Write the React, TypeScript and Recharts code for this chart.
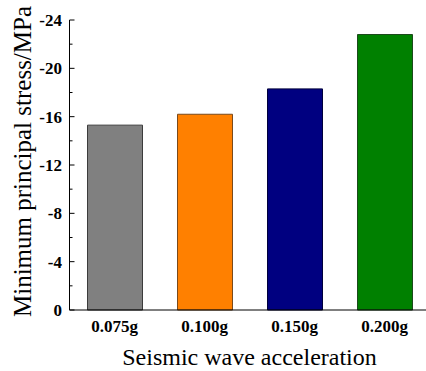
import React from 'react';
import { Bar, BarChart, Cell, Label, XAxis, YAxis } from 'recharts';

const categories = ['0.075g', '0.100g', '0.150g', '0.200g'];
const stressValues = [-15.3, -16.2, -18.3, -22.8];
const barColors = ['#808080', '#FF8000', '#000080', '#008000'];
const barEdges = ['#3c3c3c', '#7a4a1c', '#00003c', '#1c4a1c'];
const yTicks = [0, -2, -4, -6, -8, -10, -12, -14, -16, -18, -20, -22, -24];

const SERIF = '"Liberation Serif", "Times New Roman", serif';
const boldTick = { fontFamily: SERIF, fontWeight: 700, fontSize: 17 };

const data = categories.map((name, i) => ({ name, value: stressValues[i] }));

function YTick({ x, y, payload }: any) {
  const v = payload.value as number;
  const major = v % 4 === 0;
  return (
    <g>
      <line x1={x} x2={x + (major ? 5 : 3)} y1={y} y2={y} stroke="#000" strokeWidth={1} />
      {major && (
        <text x={x - 7.5} y={y} dy="0.36em" textAnchor="end" style={boldTick} fill="#000">
          {v}
        </text>
      )}
    </g>
  );
}

function XTick({ x, y, payload }: any) {
  return (
    <text x={x} y={y + 21.5} textAnchor="middle" style={boldTick} fill="#000">
      {payload.value}
    </text>
  );
}

export default function App() {
  return (
    <div
      style={{
        position: 'absolute',
        left: 0,
        top: 0,
        width: 426,
        height: 371,
        overflow: 'hidden',
        background: '#fff',
        fontFamily: SERIF,
      }}
    >
      <BarChart
        width={429.5}
        height={371}
        data={data}
        margin={{ top: 20, right: 0, left: 0, bottom: 0 }}
        barSize={55}
      >
        <XAxis
          dataKey="name"
          height={61}
          tickSize={0}
          tickMargin={0}
          tickLine={false}
          axisLine={{ stroke: '#000', strokeWidth: 1 }}
          tick={<XTick />}
          interval={0}
        >
          <Label
            content={({ viewBox }: any) => (
              <text
                x={viewBox.x + viewBox.width / 2}
                y={viewBox.y + 55}
                textAnchor="middle"
                style={{ fontFamily: SERIF, fontSize: 24 }}
                fill="#000"
              >
                Seismic wave acceleration
              </text>
            )}
          />
        </XAxis>
        <YAxis
          type="number"
          domain={[-24, 0]}
          reversed
          ticks={yTicks}
          interval={0}
          width={69.5}
          tickSize={0}
          tickMargin={0}
          tickLine={false}
          axisLine={{ stroke: '#000', strokeWidth: 1 }}
          tick={<YTick />}
        >
          <Label
            content={({ viewBox }: any) => {
              const cx = 30.5;
              const cy = viewBox.y + viewBox.height / 2 - 3.5;
              return (
                <text
                  x={cx}
                  y={cy}
                  transform={`rotate(-90 ${cx} ${cy})`}
                  textAnchor="middle"
                  style={{ fontFamily: SERIF, fontSize: 25 }}
                  fill="#000"
                >
                  Minimum principal stress/MPa
                </text>
              );
            }}
          />
        </YAxis>
        <Bar dataKey="value" isAnimationActive={false} strokeWidth={1}>
          {data.map((d, i) => (
            <Cell key={d.name} fill={barColors[i]} stroke={barEdges[i]} />
          ))}
        </Bar>
      </BarChart>
    </div>
  );
}
